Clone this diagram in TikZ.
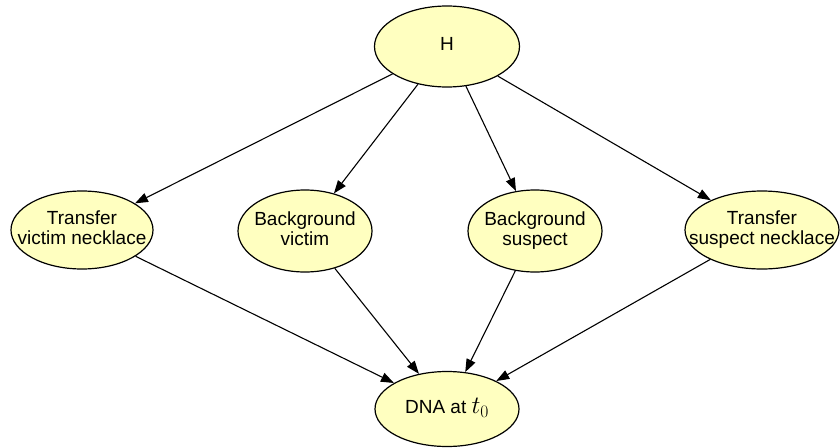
\RequirePackage{fix-cm}
\documentclass[tikz,border=0pt]{standalone}
\usepackage{fontspec}
\setmainfont{Liberation Sans}
\usetikzlibrary{shapes.geometric,arrows.meta}
\definecolor{nodefill}{RGB}{255,255,192}
\DeclareMathSizes{19}{25}{17.5}{12.5}
\newcommand{\lbl}[1]{\makebox[0pt]{\begin{tabular}{@{}c@{}}#1\end{tabular}}}
\begin{document}
\begin{tikzpicture}[x=1pt,y=-1pt,
  bnode/.style={ellipse, draw=black, line width=1.2pt, fill=nodefill, inner sep=0pt,
    font=\fontsize{19}{20}\selectfont},
  edge/.style={line width=1.1pt, -{Triangle[length=13pt,width=9.5pt]}}]
\useasboundingbox (0,0) rectangle (840,447);
\node[bnode, minimum width=145pt, minimum height=81pt] (H) at (447,46.5) {\lbl{H}};
\node[bnode, minimum width=142pt, minimum height=78pt] (TV) at (82,230) {\lbl{Transfer\\victim necklace}};
\node[bnode, minimum width=134pt, minimum height=82pt] (BV) at (305,231) {\lbl{Background\\victim}};
\node[bnode, minimum width=134pt, minimum height=82pt] (BS) at (535,231) {\lbl{Background\\suspect}};
\node[bnode, minimum width=154pt, minimum height=78pt] (TS) at (762,230) {\lbl{Transfer\\suspect necklace}};
\node[bnode, minimum width=144pt, minimum height=75pt] (DNA) at (447,409) {\lbl{DNA at $t_0$}};
\draw[edge] (H) -- (TV);
\draw[edge] (H) -- (BV);
\draw[edge] (H) -- (BS);
\draw[edge] (H) -- (TS);
\draw[edge] (TV) -- (DNA);
\draw[edge] (BV) -- (DNA);
\draw[edge] (BS) -- (DNA);
\draw[edge] (TS) -- (DNA);
\end{tikzpicture}
\end{document}
